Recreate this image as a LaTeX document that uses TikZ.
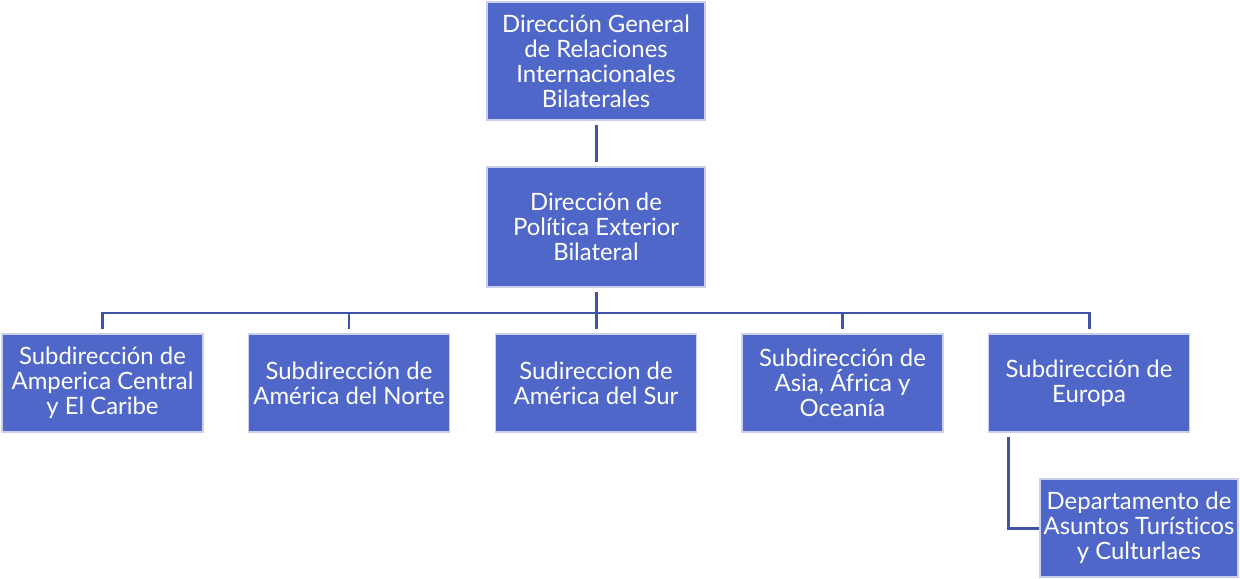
\documentclass[tikz,border=0pt]{standalone}
\usepackage{fontspec}
\setmainfont{Lato}[Ligatures=NoCommon]
\begin{document}
\begin{tikzpicture}[x=0.02cm,y=-0.02cm,
  box/.style={draw=white!70!boxblue, line width=0.6pt, fill=boxblue, text=white,
    minimum width=#1*0.02cm, align=center, inner sep=0pt,
    font=\fontsize{13.6}{14.3}\selectfont},
  conn/.style={draw=lineblue, line width=1.7pt}]
\definecolor{boxblue}{RGB}{79,103,200}
\definecolor{lineblue}{RGB}{63,83,170}
\useasboundingbox (0,0) rectangle (1240,578);
\node[box=218, minimum height=118*0.02cm] (dg) at (596,61) {Dirección General\\de Relaciones\\Internacionales\\Bilaterales};
\node[box=218, minimum height=120*0.02cm] (dp) at (596,227) {Dirección de\\Política Exterior\\Bilateral};
\node[box=201, minimum height=98*0.02cm] (s1) at (102.5,383) {Subdirección de\\Amperica Central\\y El Caribe};
\node[box=201, minimum height=98*0.02cm] (s2) at (349,383) {Subdirección de\\América del Norte};
\node[box=201, minimum height=98*0.02cm] (s3) at (596,383) {Sudireccion de\\América del Sur};
\node[box=201, minimum height=98*0.02cm] (s4) at (842.5,383) {Subdirección de\\Asia, África y\\Oceanía};
\node[box=201, minimum height=98*0.02cm] (s5) at (1089,383) {Subdirección de\\Europa};
\node[box=198, minimum height=98*0.02cm] (dep) at (1139,528) {Departamento de\\Asuntos Turísticos\\y Culturlaes};
\coordinate (bus) at (596,313);
\draw[conn] ([yshift=-4*0.02cm]dg.south) -- ([yshift=4*0.02cm]dp.north);
\draw[conn] ([yshift=-4*0.02cm]dp.south) -- (bus);
\foreach \n in {s1,s2,s3,s4,s5}
  \draw[conn] (bus) -| ([yshift=4*0.02cm]\n.north);
\draw[conn] ([xshift=-81*0.02cm,yshift=-4*0.02cm]s5.south) |- (dep.west);
\end{tikzpicture}
\end{document}
